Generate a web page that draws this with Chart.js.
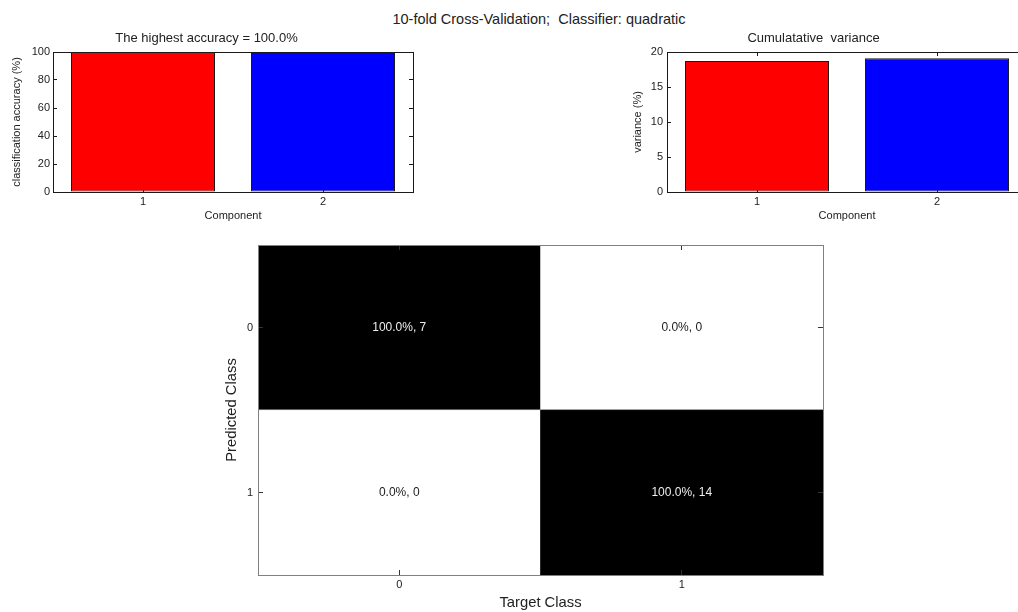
<!DOCTYPE html>
<html>
<head>
<meta charset="utf-8">
<script src="https://cdn.jsdelivr.net/npm/chart.js@4/dist/chart.umd.min.js"></script>
<style>
  html, body { margin: 0; padding: 0; background: #fff; overflow: hidden; }
  body { width: 1018px; height: 612px; position: relative; }
  canvas { position: absolute; }
  #suptitle {
    position: absolute; top: 11px; left: 539px; transform: translateX(-50%);
    white-space: pre; font: 14.5px "Liberation Sans", Arial, sans-serif;
    line-height: 16px; color: #222;
  }
</style>
</head>
<body>
<div id="suptitle">10-fold Cross-Validation;  Classifier: quadratic</div>
<canvas id="acc" width="430" height="200" style="left:0;top:24px"></canvas>
<canvas id="var" width="440" height="200" style="left:600px;top:24px"></canvas>
<canvas id="cm" width="640" height="376" style="left:200px;top:236px"></canvas>
<script>
// données
const components = ["1", "2"];
const accuracy = [100, 100];
const variance = [18.7, 19.1];
const barColors = ["#ff0000", "#0000ff"];

const targetClasses = ["0", "1"];
const predictedClasses = ["0", "1"];
const counts = [
  [7, 0],  // prédit 0
  [0, 14]  // prédit 1
];

// pourcentage par classe cible (colonne)
const percent = counts.map((row, r) =>
  row.map((n, c) => {
    const total = counts.reduce((s, rr) => s + rr[c], 0);
    return total ? (n / total) * 100 : 0;
  })
);

Chart.defaults.font.family = '"Liberation Sans", Arial, sans-serif';
Chart.defaults.font.size = 11;
Chart.defaults.color = "#222";

const axisColor = "#1a1a1a";

// taille fixe d'un axe, sans marge automatique
const fixSize = (w, h) => s => {
  if (w !== null) s.width = w;
  if (h !== null) s.height = h;
  s.paddingTop = s.paddingBottom = s.paddingLeft = s.paddingRight = 0;
};

function barChart(canvas, values, o) {
  return new Chart(canvas, {
    type: "bar",
    data: {
      labels: components,
      datasets: [{
        data: values,
        backgroundColor: barColors,
        borderColor: axisColor,
        borderWidth: 1,
        borderSkipped: false,
        barPercentage: 0.8,
        categoryPercentage: 1
      }]
    },
    options: {
      responsive: false,
      animation: false,
      layout: { padding: { left: 0, right: o.right, top: 0, bottom: 0 } },
      plugins: {
        legend: { display: false },
        tooltip: { enabled: false },
        title: {
          display: true,
          text: o.title,
          color: "#222",
          font: { size: 13, weight: "normal" },
          padding: { top: 6.2, bottom: 6.2 }
        }
      },
      scales: {
        x: {
          offset: true,
          grid: { offset: false, drawOnChartArea: false, tickLength: -4, tickColor: axisColor },
          border: { color: axisColor },
          ticks: { padding: 7 },
          title: { display: true, text: "Component", padding: { top: 0, bottom: 1.4 } },
          afterFit: fixSize(null, 32)
        },
        x2: {
          type: "category",
          labels: components,
          position: "top",
          offset: true,
          grid: { offset: false, drawOnChartArea: false, tickLength: -4, tickColor: axisColor },
          border: { color: axisColor },
          ticks: { display: false },
          afterFit: fixSize(null, 0)
        },
        y: {
          min: 0,
          max: o.max,
          ticks: { stepSize: o.step, padding: o.tickPad },
          grid: { drawOnChartArea: false, tickLength: -4, tickColor: axisColor },
          border: { color: axisColor },
          title: { display: true, text: o.yTitle, padding: { top: o.yTitlePad, bottom: 0 } },
          afterFit: fixSize(o.yWidth, null)
        },
        y2: {
          position: "right",
          min: 0,
          max: o.max,
          ticks: { stepSize: o.step, display: false },
          grid: { drawOnChartArea: false, tickLength: -4, tickColor: axisColor },
          border: { color: axisColor },
          afterFit: fixSize(0, null)
        }
      }
    }
  });
}

barChart(document.getElementById("acc"), accuracy, {
  title: "The highest accuracy = 100.0%",
  yTitle: "classification accuracy (%)",
  max: 100, step: 20, right: 17, yWidth: 53, yTitlePad: 10.4, tickPad: 7
});

barChart(document.getElementById("var"), variance, {
  title: "Cumulatative  variance",
  yTitle: "variance (%)",
  max: 20, step: 5, right: 13, yWidth: 67, yTitlePad: 31.4, tickPad: 8
});

// Matrice de confusion
const cellLabels = {
  id: "cellLabels",
  afterDatasetsDraw(chart) {
    const ctx = chart.ctx;
    ctx.save();
    ctx.font = '12px "Liberation Sans", Arial, sans-serif';
    ctx.textAlign = "center";
    ctx.textBaseline = "middle";
    chart.data.datasets.forEach((ds, r) => {
      chart.getDatasetMeta(r).data.forEach((bar, c) => {
        const p = percent[r][c];
        ctx.fillStyle = p > 50 ? "#eeeeee" : "#1a1a1a";
        ctx.fillText(p.toFixed(1) + "%, " + counts[r][c], bar.x, (bar.y + bar.base) / 2);
      });
    });
    ctx.restore();
  }
};

const gray = p => {
  const v = Math.round(255 * (1 - p / 100));
  return `rgb(${v}, ${v}, ${v})`;
};

const boxColor = "#808080";
const cmTickColor = "#333";
const centerTicks = s => { s.ticks = predictedClasses.map((_, i) => ({ value: i + 0.5 })); };

new Chart(document.getElementById("cm"), {
  type: "bar",
  data: {
    labels: targetClasses,
    datasets: predictedClasses.map((p, r) => ({
      label: p,
      data: targetClasses.map(() => 1),
      backgroundColor: targetClasses.map((t, c) => gray(percent[r][c])),
      borderColor: boxColor,
      borderWidth: r < predictedClasses.length - 1 ? { top: 0, left: 0, right: 0, bottom: 1 } : 0,
      borderSkipped: false,
      barPercentage: 1,
      categoryPercentage: 1
    }))
  },
  options: {
    responsive: false,
    animation: false,
    layout: { padding: { left: 0, right: 17, top: 9, bottom: 0 } },
    plugins: {
      legend: { display: false },
      tooltip: { enabled: false },
      title: { display: false }
    },
    scales: {
      x: {
        stacked: true,
        offset: true,
        grid: { offset: false, drawOnChartArea: false, tickLength: -5, tickColor: cmTickColor, z: 1 },
        border: { color: boxColor, z: 1 },
        ticks: { padding: 8.4 },
        title: { display: true, text: "Target Class", font: { size: 14.8 }, padding: { top: 0, bottom: 0 } },
        afterFit: fixSize(null, 37)
      },
      x2: {
        type: "category",
        labels: targetClasses,
        position: "top",
        offset: true,
        grid: { offset: false, drawOnChartArea: false, tickLength: -5, tickColor: cmTickColor, z: 1 },
        border: { color: boxColor, z: 1 },
        ticks: { display: false },
        afterFit: fixSize(null, 0)
      },
      y: {
        stacked: true,
        reverse: true,
        min: 0,
        max: predictedClasses.length,
        afterBuildTicks: centerTicks,
        ticks: { padding: 10, callback: (v, i) => predictedClasses[i] },
        grid: { drawOnChartArea: false, tickLength: -5, tickColor: cmTickColor, z: 1 },
        border: { color: boxColor, z: 1 },
        title: { display: true, text: "Predicted Class", font: { size: 14.8 }, padding: { top: 23.1, bottom: 0 } },
        afterFit: fixSize(58, null)
      },
      y2: {
        position: "right",
        reverse: true,
        min: 0,
        max: predictedClasses.length,
        afterBuildTicks: centerTicks,
        ticks: { display: false },
        grid: { drawOnChartArea: false, tickLength: -5, tickColor: cmTickColor, z: 1 },
        border: { color: boxColor, z: 1 },
        afterFit: fixSize(0, null)
      }
    }
  },
  plugins: [cellLabels]
});
</script>
</body>
</html>
